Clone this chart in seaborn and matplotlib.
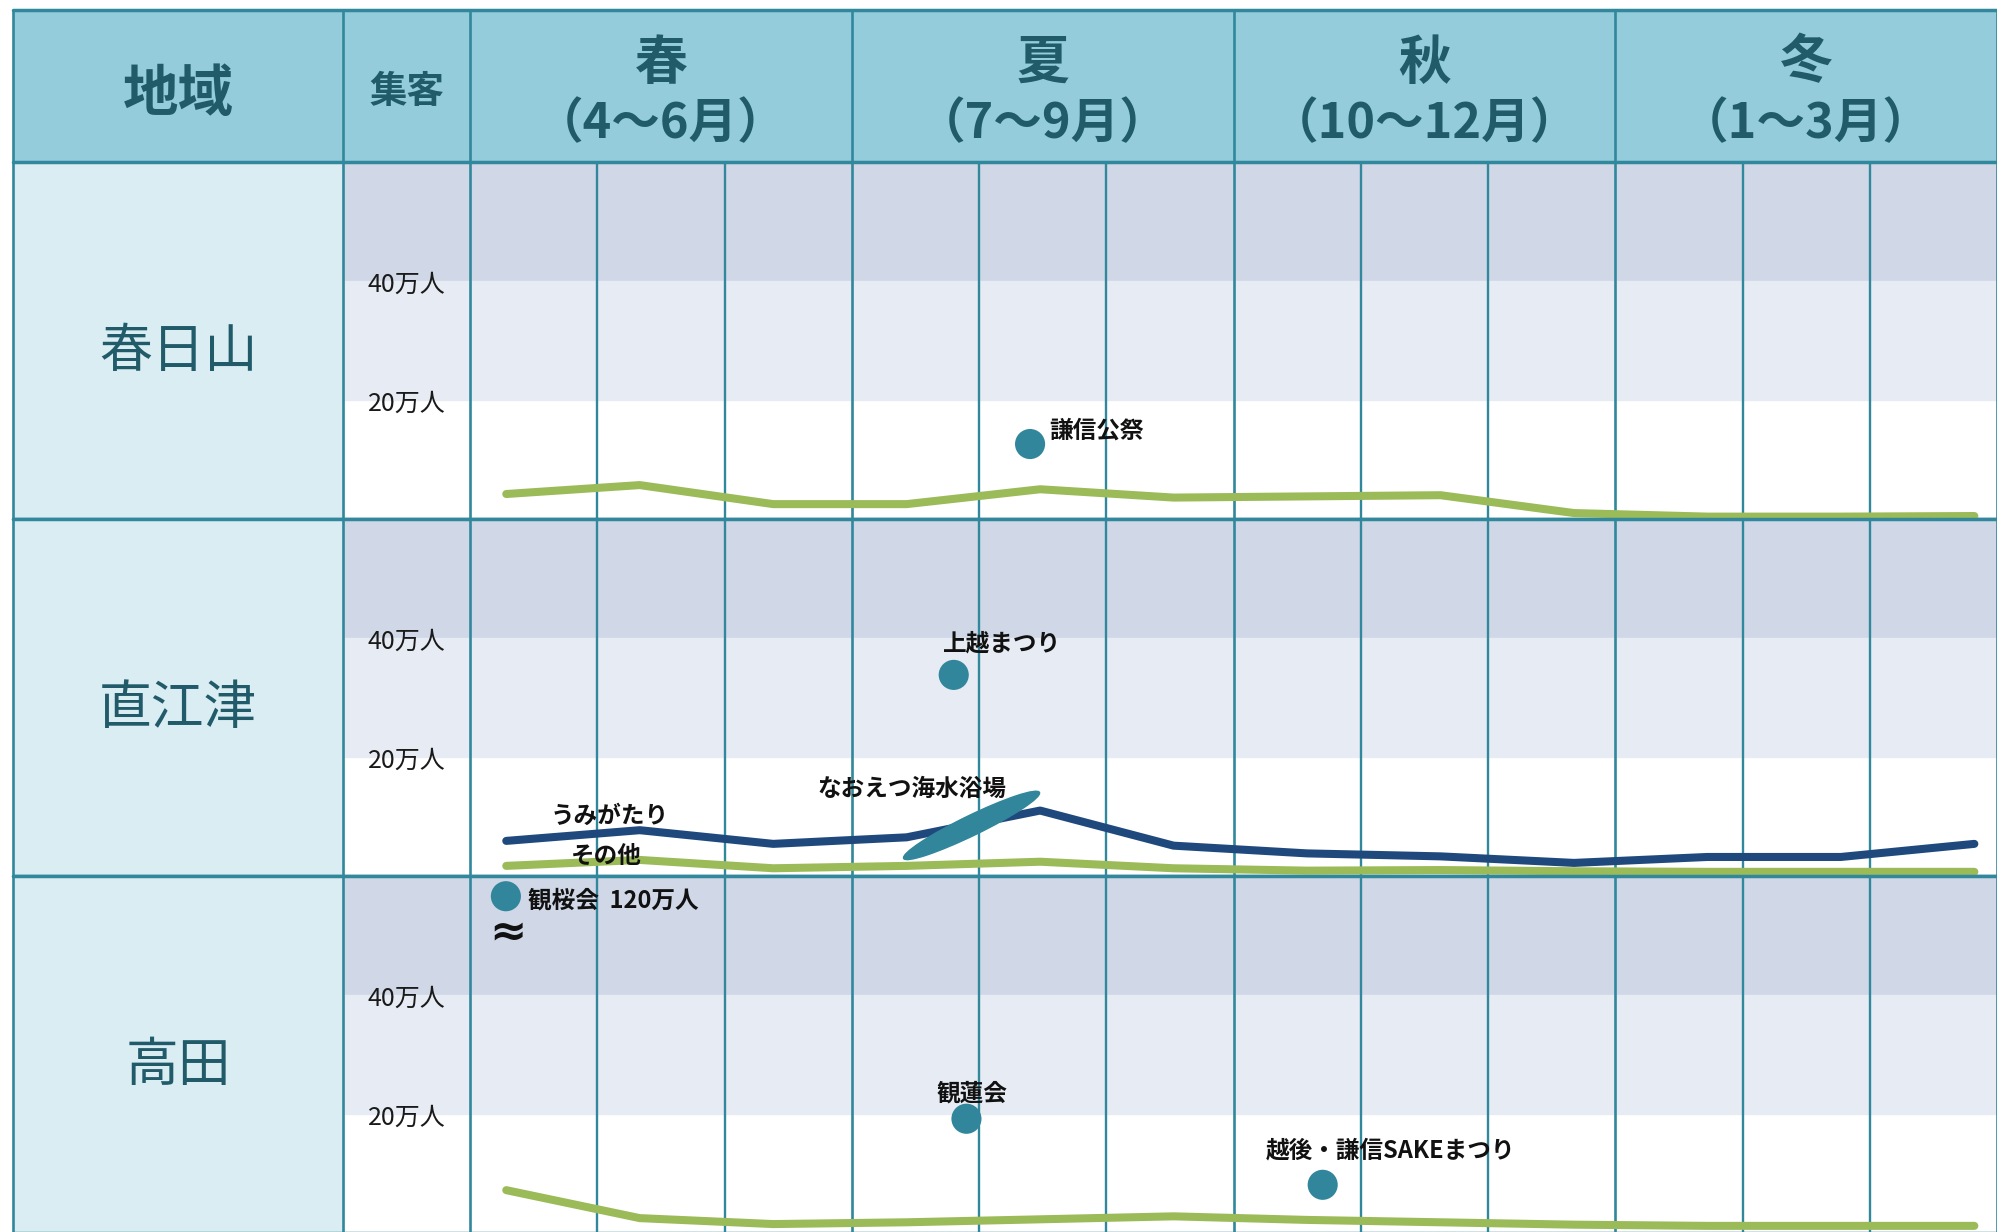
import matplotlib
matplotlib.use("Agg")
import matplotlib.pyplot as plt
import matplotlib.transforms as mtransforms
from matplotlib.patches import Rectangle, Ellipse
import pandas as pd
import seaborn as sns

# ---- data -------------------------------------------------------------
regions = ["春日山", "直江津", "高田"]
seasons = ["春", "夏", "秋", "冬"]
season_months = ["（4〜6月）", "（7〜9月）", "（10〜12月）", "（1〜3月）"]
months = ["4月", "5月", "6月", "7月", "8月", "9月",
          "10月", "11月", "12月", "1月", "2月", "3月"]
tick_values = [20, 40]
tick_labels = ["20万人", "40万人"]

# monthly visitors (万人), April .. March
kasugayama_other = [4.2, 5.7, 2.5, 2.5, 5.0, 3.6, 3.8, 4.0, 1.0, 0.4, 0.4, 0.5]
naoetsu_umigatari = [5.9, 7.7, 5.4, 6.5, 11.0, 5.1, 3.8, 3.3, 2.2, 3.2, 3.2, 5.4]
naoetsu_other = [1.7, 2.7, 1.3, 1.7, 2.4, 1.3, 0.9, 1.0, 0.8, 0.7, 0.7, 0.7]
takada_other = [7.2, 2.5, 1.5, 1.8, 2.3, 2.8, 2.2, 1.8, 1.4, 1.2, 1.2, 1.2]

# events: position in months from 1 April, visitors (万人)
event_names = ["謙信公祭", "上越まつり", "観桜会", "観蓮会", "越後・謙信SAKEまつり"]
event_regions = ["春日山", "直江津", "高田", "高田", "高田"]
event_month_pos = [4.40, 3.80, 0.28, 3.90, 6.70]
event_visitors = [12.6, 33.8, 120, 19.2, 8.1]

# beach season (mid July - mid August)
beach_name = "なおえつ海水浴場"
beach_month_pos = 3.94
beach_visitors = 8.5

# ---- style ------------------------------------------------------------
sns.set_theme(style="white")
plt.rcParams["font.family"] = ["Noto Sans CJK JP", "DejaVu Sans"]

HEADER_BG = "#94CCDC"
HEADER_TXT = "#215B6A"
LABEL_BG = "#DAEDF3"
BAND_DARK = "#D0D7E6"
BAND_LIGHT = "#E7ECF4"
GRID = "#31879B"
GREEN = "#9BBB59"
NAVY = "#1F497D"
DOT = "#31869C"

W, H = 1997, 1232
fig = plt.figure(figsize=(W / 100, H / 100), dpi=100)
fig.patch.set_facecolor("white")

LEFT, TOP, HEAD_BOTTOM, ROW_H = 13, 10, 162, 357
XMIN, XMAX = -3.594, 12.0          # month units; 0 = start of April
YMAX = 60
BREAK_AT = 56.6                     # values above this are drawn at the break
LINE_X0, LINE_STEP = 0.283, 1.049   # monthly series placement in month units
LW_MAIN = 1.9


def rect(top, bottom):
    return [LEFT / W, 1 - bottom / H, (W - LEFT) / W, (bottom - top) / H]


# ---- header -----------------------------------------------------------
axh = fig.add_axes(rect(TOP, HEAD_BOTTOM))
axh.set_xlim(XMIN, XMAX)
axh.set_ylim(HEAD_BOTTOM, TOP)
axh.axis("off")
axh.add_patch(Rectangle((XMIN, TOP), XMAX - XMIN, HEAD_BOTTOM - TOP,
                        color=HEADER_BG, zorder=0))
for xv in [XMIN, -1, 0, 3, 6, 9, XMAX]:
    axh.plot([xv, xv], [TOP, HEAD_BOTTOM], color=GRID, lw=LW_MAIN,
             clip_on=False, solid_capstyle="butt")
axh.plot([XMIN, XMAX], [TOP, TOP], color=GRID, lw=LW_MAIN + 0.6, clip_on=False)
axh.text((XMIN - 1) / 2, 95, "地域", ha="center", va="center",
         fontsize=40, fontweight="bold", color=HEADER_TXT)
axh.text(-0.5, 91, "集客", ha="center", va="center",
         fontsize=27, fontweight="bold", color=HEADER_TXT)
for k, (s, m) in enumerate(zip(seasons, season_months)):
    xc = 3 * k + 1.5
    axh.text(xc, 63, s, ha="center", va="center",
             fontsize=38, fontweight="bold", color=HEADER_TXT)
    axh.text(xc, 124, m, ha="center", va="center",
             fontsize=35, fontweight="bold", color=HEADER_TXT)

# ---- region rows ------------------------------------------------------
line_series = {
    "春日山": [("その他", kasugayama_other, GREEN)],
    "直江津": [("うみがたり", naoetsu_umigatari, NAVY),
              ("その他", naoetsu_other, GREEN)],
    "高田": [("その他", takada_other, GREEN)],
}

events = pd.DataFrame({
    "name": event_names, "region": event_regions,
    "month": event_month_pos, "visitors": event_visitors,
})
events["shown"] = events["visitors"].clip(upper=BREAK_AT)

# label offsets in pixels (dx, dy, ha)
label_offsets = {
    "謙信公祭": (19, 13, "left"),
    "上越まつり": (-11, 31, "left"),
    "観桜会": (22, -4, "left"),
    "観蓮会": (6, 25, "center"),
    "越後・謙信SAKEまつり": (-57, 34, "left"),
}
PX = 0.72  # pixels -> points at 100 dpi
LABEL_FS = 17

for r, region in enumerate(regions):
    top = HEAD_BOTTOM + r * ROW_H
    bottom = top + ROW_H
    ax = fig.add_axes(rect(top, bottom))
    ax.set_xlim(XMIN, XMAX)
    ax.set_ylim(0, YMAX)
    ax.axis("off")

    # backgrounds
    ax.add_patch(Rectangle((XMIN, 0), -1 - XMIN, YMAX, color=LABEL_BG, zorder=0))
    ax.add_patch(Rectangle((-1, 40), XMAX + 1, 20, color=BAND_DARK, zorder=0))
    ax.add_patch(Rectangle((-1, 20), XMAX + 1, 20, color=BAND_LIGHT, zorder=0))

    # grid
    for xv in [XMIN, -1] + list(range(0, 13)):
        ax.plot([xv, xv], [0, YMAX], color=GRID,
                lw=LW_MAIN if xv in (XMIN, -1, 0, 3, 6, 9, 12) else 1.7,
                clip_on=False, solid_capstyle="butt", zorder=1)
    for yv in (0, YMAX):
        ax.plot([XMIN, XMAX], [yv, yv], color=GRID, lw=LW_MAIN + 0.6,
                clip_on=False, zorder=1)

    # row label and scale labels
    ax.text((XMIN - 1) / 2, 28.2, region, ha="center", va="center",
            fontsize=38, color=HEADER_TXT)
    for tv, tl in zip(tick_values, tick_labels):
        ax.annotate(tl, xy=(-0.5, tv), xytext=(0, -4 * PX),
                    textcoords="offset points", ha="center", va="center",
                    fontsize=18, color="#1a1a1a")

    # monthly series
    axl = ax.twiny()
    axl.set_xlim((XMIN - LINE_X0) / LINE_STEP, (XMAX - LINE_X0) / LINE_STEP)
    axl.set_ylim(0, YMAX)
    axl.axis("off")
    frames = []
    for name, vals, col in line_series[region]:
        frames.append(pd.DataFrame({"idx": range(len(months)), "month": months,
                                    "visitors": vals, "series": name}))
    df = pd.concat(frames, ignore_index=True)
    pal = {name: col for name, _, col in line_series[region]}
    sns.lineplot(data=df, x="idx", y="visitors", hue="series", palette=pal,
                 linewidth=5.8, legend=False, ax=axl, solid_capstyle="round",
                 sort=False)
    if region == "直江津":
        axl.annotate("うみがたり", xy=(1, naoetsu_umigatari[1]),
                     xytext=(-30 * PX, 14 * PX), textcoords="offset points",
                     ha="center", va="center", fontsize=LABEL_FS,
                     fontweight="bold", color="#111111")
        axl.annotate("その他", xy=(1, naoetsu_other[1]),
                     xytext=(-33 * PX, 4 * PX), textcoords="offset points",
                     ha="center", va="center", fontsize=LABEL_FS,
                     fontweight="bold", color="#111111")
    axl.set_xlim((XMIN - LINE_X0) / LINE_STEP, (XMAX - LINE_X0) / LINE_STEP)
    axl.set_ylim(0, YMAX)

    # events on top
    axe = fig.add_axes(rect(top, bottom))
    axe.axis("off")
    ev = events[events["region"] == region]
    sns.scatterplot(data=ev, x="month", y="shown", s=470, color=DOT,
                    edgecolor="none", linewidth=0, legend=False, ax=axe,
                    zorder=5)
    for _, row in ev.iterrows():
        dx, dy, ha = label_offsets[row["name"]]
        label = row["name"]
        if row["visitors"] > BREAK_AT:
            label = f"{row['name']}  {row['visitors']:g}万人"
            axe.annotate("≈", xy=(row["month"], row["shown"]),
                         xytext=(2 * PX, -36 * PX), textcoords="offset points",
                         ha="center", va="center", fontsize=32,
                         fontweight="bold", family="DejaVu Sans", color="#111111")
        axe.annotate(label, xy=(row["month"], row["shown"]),
                     xytext=(dx * PX, dy * PX), textcoords="offset points",
                     ha=ha, va="center", fontsize=LABEL_FS, fontweight="bold",
                     color="#111111")
    if region == "直江津":
        t = (mtransforms.Affine2D().scale(fig.dpi / 72.0)
             + mtransforms.ScaledTranslation(beach_month_pos, beach_visitors,
                                             axe.transData))
        axe.add_patch(Ellipse((0, 0), width=151 * PX, height=20 * PX,
                              angle=25.9, color=DOT, transform=t, zorder=4))
        axe.annotate(beach_name, xy=(beach_month_pos, beach_visitors),
                     xytext=(-154 * PX, 37 * PX), textcoords="offset points",
                     ha="left", va="center", fontsize=LABEL_FS,
                     fontweight="bold", color="#111111")
    axe.set_xlim(XMIN, XMAX)
    axe.set_ylim(0, YMAX)

fig.savefig("out.png", dpi=100, facecolor="white")
